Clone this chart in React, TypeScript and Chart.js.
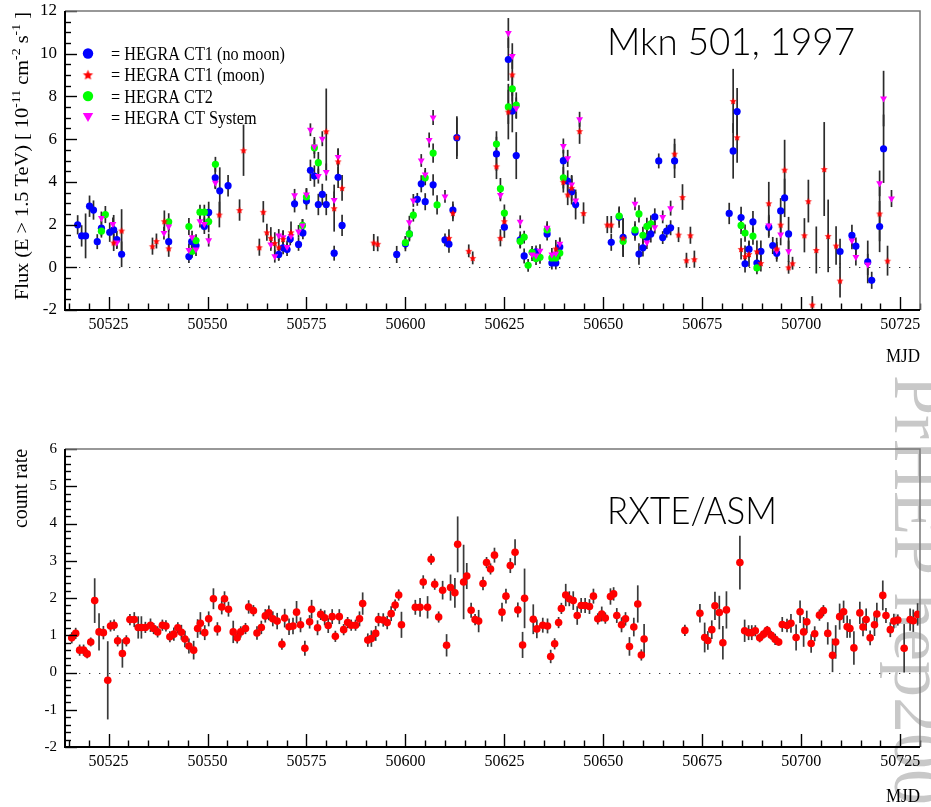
import React, { useEffect, useRef } from "react";
import { Chart, registerables } from "chart.js";

Chart.register(...registerables);

// ---------------- axes ----------------
const MJD_MIN = 50514;
const MJD_MAX = 50730;
const MJD_LABEL_STEP = 25;
const MJD_MINOR_STEP = 5;

const FLUX_MIN = -2;
const FLUX_MAX = 12;
const FLUX_LABEL_STEP = 2;
const FLUX_MINOR_STEP = 0.5;

const RATE_MIN = -2;
const RATE_MAX = 6;
const RATE_LABEL_STEP = 1;
const RATE_MINOR_STEP = 0.2;

// ---------------- texts ----------------
const TOP_TITLE = "Mkn 501, 1997";
const BOTTOM_TITLE = "RXTE/ASM";
const X_TITLE = "MJD";
const Y_TITLE_BOTTOM = "count rate";
const Y_TITLE_TOP = [
  { t: "Flux (E > 1.5 TeV) [ 10" },
  { t: "-11", sup: true },
  { t: " cm" },
  { t: "-2", sup: true },
  { t: " s" },
  { t: "-1", sup: true },
  { t: " ]" },
];
const WATERMARK = "PrHEP hep2001";
const LABEL_CT1_NOMOON = "HEGRA CT1 (no moon)";
const LABEL_CT1_MOON = "HEGRA CT1 (moon)";
const LABEL_CT2 = "HEGRA CT2";
const LABEL_SYSTEM = "HEGRA CT System";
const LABEL_ASM = "RXTE/ASM";

// ---------------- HEGRA CT1 (no moon) ----------------
const ct1MJD = [50517.2, 50518.2, 50519.2, 50520.2, 50521.2, 50522.15, 50523.2, 50525.3, 50526.3, 50527.1, 50528.3, 50540.2, 50545.3, 50546.0, 50547.1, 50549.2, 50550.3, 50551.95, 50553.1, 50555.2, 50568.0, 50569.1, 50570.1, 50570.9, 50572.0, 50573.0, 50574.1, 50575.0, 50576.0, 50577.0, 50578.0, 50579.0, 50580.0, 50582.0, 50583.0, 50584.0, 50597.8, 50600.0, 50601.0, 50603.0, 50604.0, 50605.0, 50607.0, 50610.0, 50611.0, 50612.0, 50613.0, 50623.0, 50625.0, 50626.0, 50627.0, 50628.0, 50629.0, 50630.0, 50633.0, 50635.8, 50637.0, 50638.0, 50639.0, 50639.9, 50641.0, 50642.0, 50643.0, 50652.0, 50654.0, 50655.0, 50658.0, 50659.0, 50660.0, 50661.0, 50662.0, 50663.0, 50664.0, 50665.0, 50666.0, 50667.0, 50668.0, 50681.8, 50682.8, 50683.8, 50684.8, 50685.8, 50686.8, 50687.8, 50688.8, 50689.8, 50691.8, 50692.8, 50693.8, 50694.8, 50695.8, 50696.8, 50709.8, 50712.8, 50713.8, 50716.8, 50717.8, 50719.8, 50720.8];
const ct1Flux = [1.99, 1.47, 1.47, 2.86, 2.68, 1.2, 1.83, 1.64, 1.75, 1.3, 0.61, 1.2, 0.5, 1.2, 1.02, 1.91, 2.57, 4.19, 3.58, 3.82, 0.6, 0.91, 0.83, 1.33, 2.97, 1.07, 1.61, 3.1, 4.54, 4.27, 2.94, 3.41, 2.94, 0.66, 4.21, 1.96, 0.6, 1.1, 1.56, 3.18, 3.91, 3.07, 3.86, 1.28, 1.08, 2.68, 6.07, 5.31, 1.88, 9.73, 7.32, 5.23, 1.28, 0.53, 0.72, 1.56, 0.2, 0.2, 0.95, 4.99, 4.04, 3.54, 2.94, 1.17, 2.35, 1.4, 1.64, 0.62, 0.91, 1.4, 1.56, 2.36, 4.98, 1.39, 1.69, 1.85, 4.98, 2.52, 5.45, 7.29, 2.33, 0.16, 0.85, 2.13, 0.2, 0.75, 1.88, 1.02, 0.66, 2.64, 3.25, 1.56, 0.74, 1.49, 0.99, 0.25, -0.61, 1.91, 5.55];
const ct1Err = [0.45, 0.5, 1.05, 0.5, 0.45, 0.35, 0.35, 0.45, 0.7, 0.4, 0.6, 0.4, 0.3, 0.3, 0.3, 0.35, 0.5, 0.5, 1.1, 0.5, 0.3, 0.3, 0.3, 0.3, 0.4, 0.3, 0.3, 0.4, 0.5, 0.5, 0.5, 0.5, 0.5, 0.35, 0.5, 0.5, 0.4, 0.35, 0.35, 0.3, 0.4, 0.4, 0.5, 0.3, 0.4, 0.4, 1.0, 0.8, 0.5, 1.0, 1.0, 1.1, 0.4, 0.35, 0.3, 0.3, 0.3, 0.3, 0.4, 0.5, 0.5, 0.6, 0.7, 0.4, 0.5, 0.9, 0.4, 0.5, 0.4, 0.4, 0.4, 0.4, 0.35, 0.3, 0.3, 0.35, 0.8, 0.5, 1.3, 1.1, 0.5, 0.4, 0.4, 0.5, 0.4, 0.5, 0.5, 0.4, 0.4, 0.6, 0.9, 0.8, 0.6, 0.5, 0.4, 1.0, 0.4, 1.2, 1.6];

// ---------------- HEGRA CT1 (moon) ----------------
const moonMJD = [50526.3, 50528.3, 50536.1, 50537.1, 50539.1, 50540.2, 50553.0, 50558.1, 50559.1, 50563.1, 50564.1, 50565.0, 50566.0, 50567.0, 50568.0, 50569.1, 50571.1, 50580.0, 50582.0, 50583.0, 50584.0, 50592.0, 50593.0, 50611.0, 50612.0, 50613.0, 50616.0, 50617.0, 50623.0, 50624.0, 50625.0, 50626.0, 50627.0, 50638.0, 50639.9, 50641.0, 50642.0, 50644.0, 50645.0, 50651.0, 50652.0, 50655.0, 50668.0, 50669.0, 50670.0, 50671.0, 50672.0, 50673.0, 50682.8, 50683.8, 50684.8, 50685.8, 50686.8, 50688.8, 50689.8, 50691.8, 50693.8, 50694.8, 50695.8, 50696.8, 50697.8, 50700.8, 50701.8, 50702.8, 50703.8, 50705.8, 50706.8, 50708.8, 50709.8, 50719.8, 50721.8];
const moonFlux = [1.16, 1.72, 0.99, 1.23, 2.16, 0.89, 2.47, 2.68, 5.48, 0.94, 2.6, 1.64, 1.38, 1.14, 0.94, 1.33, 1.64, 6.37, 2.77, 4.96, 3.72, 1.16, 1.1, 1.38, 2.55, 6.1, 0.77, 0.44, 4.73, 1.38, 2.16, 7.29, 9.03, 0.88, 4.0, 3.41, 3.72, 6.38, 2.54, 2.0, 2.0, 1.38, 5.32, 1.53, 3.29, 0.33, 1.5, 0.38, 7.79, 6.09, 0.86, 0.52, 0.62, 0.75, 0.2, 3.0, 0.88, 2.0, 4.57, 0.0, 0.19, 1.5, 3.1, -1.75, 0.81, 4.6, 1.47, 1.02, -0.62, 2.52, 0.31];
const moonErr = [0.4, 1.0, 0.4, 0.35, 0.5, 0.4, 0.6, 0.5, 1.2, 0.4, 0.5, 0.4, 0.5, 0.5, 0.6, 0.4, 0.5, 2.0, 1.1, 0.6, 0.6, 0.4, 0.35, 0.4, 0.4, 0.9, 0.3, 0.3, 0.6, 0.4, 0.4, 1.3, 1.0, 0.4, 0.5, 0.5, 0.6, 0.6, 0.5, 0.4, 0.4, 0.9, 0.7, 0.35, 0.6, 0.35, 0.4, 0.4, 1.5, 1.2, 0.5, 0.5, 0.6, 0.5, 0.4, 1.0, 0.5, 0.5, 1.4, 0.3, 0.3, 0.8, 1.0, 0.4, 1.1, 2.2, 1.7, 0.9, 0.8, 1.3, 0.7];

// ---------------- HEGRA CT2 ----------------
const ct2MJD = [50523.2, 50524.2, 50540.2, 50545.3, 50546.1, 50547.1, 50548.1, 50549.2, 50550.3, 50552.0, 50574.0, 50575.0, 50577.0, 50578.0, 50600.0, 50601.0, 50602.0, 50605.0, 50607.0, 50608.0, 50623.0, 50624.0, 50625.0, 50626.0, 50627.0, 50628.0, 50629.0, 50630.0, 50631.0, 50632.0, 50633.0, 50634.0, 50635.8, 50637.0, 50638.0, 50639.0, 50639.9, 50654.0, 50655.0, 50658.0, 50659.0, 50660.0, 50661.0, 50662.0, 50684.8, 50685.8, 50687.8, 50688.8];
const ct2Flux = [1.69, 2.47, 2.13, 1.91, 0.75, 1.25, 2.58, 2.58, 2.14, 4.82, 1.96, 3.29, 5.6, 4.9, 1.16, 1.56, 2.44, 4.19, 5.35, 2.92, 5.77, 3.68, 2.54, 7.51, 8.36, 7.59, 1.22, 1.41, 0.09, 0.7, 0.41, 0.47, 1.75, 0.44, 0.44, 0.67, 4.19, 2.4, 1.22, 1.75, 2.5, 1.5, 1.92, 2.03, 1.96, 1.6, 1.46, -0.03];
const ct2Err = [0.3, 0.4, 0.4, 0.4, 0.3, 0.3, 0.35, 0.35, 0.5, 0.35, 0.3, 0.4, 0.5, 0.5, 0.3, 0.3, 0.3, 0.35, 0.45, 0.45, 0.6, 0.5, 0.4, 0.8, 0.6, 0.6, 0.3, 0.3, 0.3, 0.3, 0.3, 0.3, 0.3, 0.3, 0.3, 0.3, 0.5, 0.4, 0.4, 0.4, 0.4, 0.4, 0.4, 0.4, 0.4, 0.4, 0.4, 0.3];

// ---------------- HEGRA CT System ----------------
const sysMJD = [50523.2, 50526.1, 50527.1, 50539.0, 50540.2, 50545.3, 50546.1, 50547.1, 50548.1, 50549.2, 50550.3, 50552.0, 50566.0, 50567.0, 50568.0, 50569.1, 50570.1, 50571.1, 50572.0, 50573.0, 50574.0, 50575.0, 50576.0, 50577.0, 50578.0, 50579.0, 50580.0, 50582.0, 50583.0, 50601.0, 50602.0, 50604.0, 50605.0, 50606.0, 50607.0, 50610.0, 50624.0, 50626.0, 50627.0, 50628.0, 50629.0, 50632.0, 50633.0, 50634.0, 50635.8, 50637.0, 50638.0, 50639.0, 50639.9, 50641.0, 50642.0, 50643.0, 50644.0, 50658.0, 50661.0, 50663.0, 50665.0, 50667.0, 50691.8, 50693.8, 50694.8, 50696.8, 50712.8, 50713.8, 50716.8, 50719.8, 50720.8, 50722.8];
const sysFlux = [2.31, 2.03, 1.16, 1.6, 1.91, 0.81, 1.41, 0.83, 2.16, 2.03, 1.27, 3.96, 1.07, 0.52, 1.49, 1.41, 0.95, 1.46, 3.37, 1.68, 1.96, 3.41, 6.44, 5.65, 4.27, 6.02, 4.46, 3.15, 5.16, 2.11, 3.13, 5.0, 4.35, 5.96, 7.01, 3.32, 3.39, 10.97, 9.89, 7.45, 2.13, 0.6, 0.55, 0.78, 1.85, 0.6, 0.64, 1.1, 5.68, 5.1, 3.88, 3.13, 6.93, 2.97, 1.16, 1.88, 2.36, 2.77, 1.96, 0.78, 1.53, 0.75, 1.25, 0.48, 0.13, 3.93, 7.9, 3.22];
const sysErr = [0.3, 0.3, 0.3, 0.3, 0.3, 0.3, 0.3, 0.3, 0.3, 0.3, 0.3, 0.3, 0.3, 0.3, 0.3, 0.3, 0.3, 0.3, 0.3, 0.3, 0.3, 0.3, 0.3, 0.35, 0.35, 0.35, 0.4, 0.4, 0.4, 0.3, 0.3, 0.3, 0.3, 0.35, 0.35, 0.3, 0.3, 0.7, 0.6, 0.5, 0.3, 0.3, 0.3, 0.3, 0.3, 0.3, 0.3, 0.3, 0.35, 0.4, 0.4, 0.4, 0.35, 0.3, 0.3, 0.3, 0.3, 0.35, 0.5, 0.4, 0.5, 0.5, 0.4, 0.4, 0.5, 0.6, 1.3, 0.4];

// ---------------- RXTE/ASM ----------------
const asmMJD = [
  50515.7, 50516.7, 50517.7, 50518.7, 50519.6, 50520.5, 50521.5, 50522.6, 50523.7, 50524.8,
  50525.5, 50526.4, 50527.3, 50528.5, 50529.5, 50530.4, 50531.5, 50532.5, 50533.3, 50534.3,
  50535.6, 50536.4, 50537.4, 50538.6, 50539.5, 50540.5, 50541.5, 50542.5, 50543.4, 50544.3,
  50545.3, 50546.5, 50547.5, 50548.2, 50549.3, 50550.3, 50551.5, 50552.5, 50553.6, 50554.3,
  50555.3, 50556.5, 50557.5, 50558.4, 50559.6, 50560.4, 50561.6, 50562.5, 50563.6, 50564.6,
  50565.5, 50566.5, 50567.6, 50568.8, 50569.5, 50570.6, 50571.6, 50572.5, 50573.5, 50574.6,
  50575.8, 50576.3, 50577.8, 50578.6, 50579.6, 50580.5, 50581.5, 50582.3, 50583.3, 50584.4,
  50585.4, 50586.3, 50587.4, 50588.4, 50589.2, 50590.5, 50591.4, 50592.5, 50593.2, 50594.4,
  50595.4, 50596.4, 50597.4, 50598.3, 50599.0, 50602.5, 50603.7, 50604.5, 50605.6, 50606.5,
  50607.4, 50608.4, 50609.4, 50610.4, 50611.4, 50612.5, 50613.2, 50614.7, 50615.5, 50616.6,
  50617.6, 50618.5, 50619.6, 50620.5, 50621.5, 50622.5, 50624.4, 50625.4, 50626.5, 50627.7,
  50628.4, 50629.6, 50630.1, 50632.3, 50633.2, 50634.7, 50635.9, 50636.7, 50637.7, 50638.7,
  50639.4, 50640.5, 50641.4, 50642.4, 50643.4, 50644.4, 50645.4, 50646.5, 50647.5, 50648.6,
  50649.6, 50650.5, 50651.8, 50652.6, 50653.4, 50654.6, 50655.6, 50656.6, 50657.7, 50658.7,
  50659.6, 50660.3, 50670.6, 50674.4, 50675.6, 50676.4, 50677.4, 50678.2, 50679.3, 50680.2,
  50681.1, 50684.5, 50685.7, 50686.7, 50687.5, 50688.4, 50689.5, 50690.5, 50691.4, 50692.4,
  50693.4, 50694.3, 50695.2, 50696.4, 50697.4, 50698.7, 50699.7, 50700.6, 50701.4, 50702.5,
  50703.4, 50704.6, 50705.6, 50706.7, 50707.9, 50708.7, 50709.7, 50710.7, 50711.6, 50712.3,
  50713.3, 50714.8, 50715.6, 50716.4, 50717.4, 50718.5, 50719.1, 50720.6, 50721.4, 50722.5,
  50723.4, 50724.4, 50726.0, 50727.5, 50728.3, 50729.4,
];
const asmRate = [
  0.93, 1.05, 0.6, 0.6, 0.5, 0.82, 1.93, 1.09, 1.07, -0.21,
  1.25, 1.27, 0.85, 0.51, 0.85, 1.42, 1.42, 1.21, 1.21, 1.21,
  1.27, 1.18, 1.09, 1.27, 1.25, 0.96, 1.03, 1.2, 1.08, 0.9,
  0.71, 0.6, 1.18, 1.32, 1.07, 1.44, 1.98, 1.17, 1.76, 1.98,
  1.7, 1.09, 0.93, 1.09, 1.18, 1.76, 1.66, 1.06, 1.21, 1.52,
  1.6, 1.44, 1.38, 0.76, 1.46, 1.23, 1.25, 1.62, 1.28, 0.65,
  1.36, 1.7, 1.2, 1.56, 1.47, 1.26, 1.5, 0.97, 1.5, 1.15,
  1.34, 1.27, 1.27, 1.44, 1.85, 0.87, 0.91, 1.05, 1.42, 1.41,
  1.34, 1.58, 1.81, 2.08, 1.28, 1.75, 1.75, 2.43, 1.75, 3.04,
  2.37, 1.49, 2.21, 0.73, 2.28, 2.14, 3.44, 2.43, 2.59, 1.67,
  1.42, 1.38, 2.39, 2.95, 2.78, 3.15, 1.62, 2.05, 2.87, 3.23,
  1.68, 0.74, 1.99, 1.43, 1.17, 1.27, 1.25, 0.43, 0.77, 1.34,
  1.72, 2.08, 1.98, 1.93, 1.53, 1.8, 1.8, 1.77, 2.05, 1.44,
  1.57, 1.46, 2.04, 2.11, 1.53, 1.28, 1.44, 0.7, 1.22, 1.84,
  0.47, 0.9, 1.13, 1.59, 0.94, 0.86, 1.15, 1.79, 1.61, 0.8,
  1.68, 2.95, 1.12, 1.07, 1.07, 1.12, 0.93, 1.03, 1.13, 1.0,
  0.89, 0.82, 1.29, 1.26, 1.32, 0.94, 1.63, 1.09, 1.36, 0.78,
  1.04, 1.54, 1.66, 1.05, 0.46, 0.82, 1.5, 1.63, 1.23, 1.18,
  0.66, 1.6, 1.22, 1.42, 0.93, 1.28, 1.57, 2.07, 1.53, 1.15,
  1.38, 1.41, 0.65, 1.42, 1.39, 1.56,
];
const asmErr = [
  0.15, 0.15, 0.15, 0.15, 0.12, 0.12, 0.6, 0.5, 0.18, 1.05,
  0.15, 0.15, 0.15, 0.38, 0.15, 0.15, 0.2, 0.3, 0.3, 0.15,
  0.18, 0.15, 0.15, 0.15, 0.15, 0.15, 0.18, 0.15, 0.2, 0.22,
  0.2, 0.25, 0.25, 0.3, 0.2, 0.2, 0.28, 0.18, 0.2, 0.2,
  0.2, 0.3, 0.15, 0.15, 0.15, 0.18, 0.15, 0.18, 0.18, 0.18,
  0.2, 0.2, 0.22, 0.15, 0.25, 0.22, 0.22, 0.3, 0.2, 0.2,
  0.18, 0.25, 0.2, 0.15, 0.2, 0.2, 0.2, 0.15, 0.2, 0.15,
  0.15, 0.15, 0.15, 0.2, 0.3, 0.18, 0.22, 0.2, 0.18, 0.18,
  0.18, 0.2, 0.15, 0.15, 0.35, 0.2, 0.25, 0.18, 0.3, 0.15,
  0.15, 0.15, 0.25, 0.3, 0.35, 0.4, 0.75, 1.0, 0.35, 0.2,
  0.15, 0.3, 0.18, 0.15, 0.15, 0.2, 0.25, 0.2, 0.2, 0.35,
  0.2, 0.35, 0.8, 0.4, 0.25, 0.2, 0.2, 0.18, 0.15, 0.15,
  0.15, 0.3, 0.2, 0.25, 0.25, 0.2, 0.2, 0.2, 0.2, 0.15,
  0.2, 0.15, 0.22, 0.18, 0.2, 0.2, 0.18, 0.25, 0.25, 0.5,
  0.15, 0.4, 0.15, 0.25, 0.4, 0.25, 0.25, 0.38, 0.45, 0.45,
  0.5, 0.72, 0.3, 0.2, 0.2, 0.15, 0.12, 0.12, 0.12, 0.12,
  0.15, 0.1, 0.2, 0.18, 0.25, 0.35, 0.3, 0.4, 0.3, 0.25,
  0.2, 0.15, 0.15, 0.3, 0.45, 0.45, 0.35, 0.3, 0.3, 0.25,
  0.45, 0.3, 0.25, 0.3, 0.2, 0.3, 0.3, 0.4, 0.2, 0.2,
  0.2, 0.15, 0.65, 0.3, 0.3, 0.3,
];

// ---------------- styling ----------------
const SERIF = "'Liberation Serif', 'Times New Roman', Times, serif";
const SANS_LIGHT = "300 37px Lato, 'Liberation Sans', Arial, sans-serif";
const BLUE = "#0000ff";
const RED = "#ff0000";
const GREEN = "#00ff00";
const MAGENTA = "#ff00ff";

const W = 931;
const TOP_H = 370;
const BOT_H = 437;

function toPoints(xs: number[], ys: number[]) {
  return xs.map((x, i) => ({ x, y: ys[i] }));
}

function makeStar(color: string, R: number) {
  const c = document.createElement("canvas");
  const s = Math.ceil(R * 2 + 2);
  c.width = s;
  c.height = s;
  const g = c.getContext("2d") as CanvasRenderingContext2D;
  g.fillStyle = color;
  g.beginPath();
  for (let k = 0; k < 10; k++) {
    const r = k % 2 === 0 ? R : R * 0.45;
    const a = -Math.PI / 2 + (k * Math.PI) / 5;
    const px = s / 2 + r * Math.cos(a);
    const py = s / 2 + 0.5 + r * Math.sin(a);
    if (k === 0) g.moveTo(px, py);
    else g.lineTo(px, py);
  }
  g.closePath();
  g.fill();
  return c;
}

function fitText(ctx: any, text: string, x: number, y: number, font: string, width: number, alignRight = false, color = "#000") {
  ctx.save();
  ctx.font = font;
  ctx.fillStyle = color;
  ctx.textAlign = "left";
  ctx.textBaseline = "alphabetic";
  const w = ctx.measureText(text).width;
  const s = width / w;
  ctx.translate(alignRight ? x - width : x, y);
  ctx.scale(s, 1);
  ctx.fillText(text, 0, 0);
  ctx.restore();
}

function drawRich(ctx: any, segs: any[], size: number, family: string, length: number) {
  const supSize = Math.round(size * 0.68);
  const widths = segs.map((sg) => {
    ctx.font = `${sg.sup ? supSize : size}px ${family}`;
    return ctx.measureText(sg.t).width;
  });
  const total = widths.reduce((a, b) => a + b, 0);
  ctx.scale(length / total, 1);
  ctx.fillStyle = "#000";
  ctx.textAlign = "left";
  ctx.textBaseline = "alphabetic";
  let x = 0;
  segs.forEach((sg, i) => {
    ctx.font = `${sg.sup ? supSize : size}px ${family}`;
    ctx.fillText(sg.t, x, sg.sup ? -size * 0.42 : 0);
    x += widths[i];
  });
}

function errorBarPlugin(color: string, width: number) {
  return {
    id: "errorBars",
    beforeDatasetsDraw(chart: any) {
      const { ctx, chartArea: a, scales } = chart;
      const y = scales.y;
      ctx.save();
      ctx.beginPath();
      ctx.rect(a.left, a.top, a.right - a.left, a.bottom - a.top);
      ctx.clip();
      // dotted zero line
      const y0 = Math.round(y.getPixelForValue(0)) + 0.5;
      ctx.strokeStyle = "#333";
      ctx.lineWidth = 1.2;
      ctx.setLineDash([1.3, 8.7]);
      ctx.beginPath();
      ctx.moveTo(a.left + 4, y0);
      ctx.lineTo(a.right, y0);
      ctx.stroke();
      ctx.setLineDash([]);
      ctx.strokeStyle = color;
      ctx.lineWidth = width;
      chart.data.datasets.forEach((ds: any, i: number) => {
        const errs = ds.errors;
        if (!errs) return;
        const meta = chart.getDatasetMeta(i);
        meta.data.forEach((el: any, j: number) => {
          const p = ds.data[j];
          const e = errs[j] || 0;
          const y1 = y.getPixelForValue(p.y - e);
          const y2 = y.getPixelForValue(p.y + e);
          ctx.beginPath();
          ctx.moveTo(el.x, y1);
          ctx.lineTo(el.x, y2);
          ctx.stroke();
        });
      });
      ctx.restore();
    },
  };
}

function axesPlugin(yMin: number, yMax: number, yMinor: number, yMajor: number) {
  return {
    id: "rootAxes",
    afterDatasetsDraw(chart: any) {
      const { ctx, chartArea: a, scales } = chart;
      const x = scales.x;
      const y = scales.y;
      ctx.save();
      ctx.strokeStyle = "#000";
      ctx.lineWidth = 1.4;
      const start = Math.ceil(MJD_MIN / MJD_MINOR_STEP) * MJD_MINOR_STEP;
      for (let v = start; v <= MJD_MAX; v += MJD_MINOR_STEP) {
        const px = Math.round(x.getPixelForValue(v)) + 0.5;
        const len = v % MJD_LABEL_STEP === 0 ? 13 : 6.5;
        ctx.beginPath();
        ctx.moveTo(px, a.bottom);
        ctx.lineTo(px, a.bottom - len);
        ctx.stroke();
      }
      const n = Math.round((yMax - yMin) / yMinor);
      for (let k = 0; k <= n; k++) {
        const v = yMin + k * yMinor;
        const r = v / yMajor;
        const major = Math.abs(r - Math.round(r)) < 1e-6;
        const py = Math.round(y.getPixelForValue(v)) + 0.5;
        ctx.beginPath();
        ctx.moveTo(a.left, py);
        ctx.lineTo(a.left + (major ? 12 : 6), py);
        ctx.stroke();
      }
      // frame
      ctx.strokeStyle = "#777";
      ctx.lineWidth = 1.5;
      ctx.beginPath();
      ctx.moveTo(a.left, a.top);
      ctx.lineTo(a.right, a.top);
      ctx.lineTo(a.right, a.bottom);
      ctx.stroke();
      ctx.strokeStyle = "#000";
      ctx.lineWidth = 2;
      ctx.beginPath();
      ctx.moveTo(a.left, a.top);
      ctx.lineTo(a.left, a.bottom);
      ctx.lineTo(a.right, a.bottom);
      ctx.stroke();
      ctx.restore();
    },
  };
}

function baseOptions(yMin: number, yMax: number, yStep: number, padTop: number, yFont: number) {
  return {
    responsive: false,
    animation: false,
    events: [],
    layout: { padding: { top: padTop, right: 11, left: 0, bottom: 0 } },
    plugins: {
      legend: { display: false },
      tooltip: { enabled: false },
      title: { display: false },
    },
    scales: {
      x: {
        type: "linear",
        min: MJD_MIN,
        max: MJD_MAX,
        grid: { display: false, drawTicks: false },
        border: { display: false },
        ticks: {
          stepSize: MJD_LABEL_STEP,
          includeBounds: false,
          autoSkip: false,
          maxRotation: 0,
          padding: 5,
          color: "#000",
          font: { family: SERIF, size: 16 },
          callback: (v: any) => String(v),
        },
        afterFit: (s: any) => {
          s.height = 60;
          s.paddingLeft = 0;
          s.paddingRight = 0;
        },
      },
      y: {
        type: "linear",
        min: yMin,
        max: yMax,
        grid: { display: false, drawTicks: false },
        border: { display: false },
        ticks: {
          stepSize: yStep,
          includeBounds: false,
          padding: 8,
          color: "#000",
          font: { family: SERIF, size: yFont },
          callback: (v: any) => String(v),
        },
        afterFit: (s: any) => {
          s.width = 65;
          s.paddingTop = 0;
          s.paddingBottom = 0;
        },
      },
    },
  };
}

export default function App() {
  const topRef = useRef<HTMLCanvasElement>(null);
  const botRef = useRef<HTMLCanvasElement>(null);

  useEffect(() => {
    const star = makeStar(RED, 3.7);
    const legendStar = makeStar(RED, 5.4);

    const legendEntries = [
      { label: LABEL_CT1_NOMOON, kind: "circle", color: BLUE },
      { label: LABEL_CT1_MOON, kind: "star", color: RED },
      { label: LABEL_CT2, kind: "circle", color: GREEN },
      { label: LABEL_SYSTEM, kind: "tri", color: MAGENTA },
    ];

    const topAnnot = {
      id: "topAnnot",
      afterDraw(chart: any) {
        const ctx = chart.ctx;
        fitText(ctx, TOP_TITLE, 607, 55, SANS_LIGHT, 248);
        fitText(ctx, X_TITLE, 920, 362, `19px ${SERIF}`, 34, true);
        ctx.save();
        ctx.translate(28, 300);
        ctx.rotate(-Math.PI / 2);
        drawRich(ctx, Y_TITLE_TOP, 19, SERIF, 288);
        ctx.restore();
        // legend
        ctx.save();
        ctx.font = `19px ${SERIF}`;
        const first = "= " + legendEntries[0].label;
        const sx = 174 / ctx.measureText(first).width;
        legendEntries.forEach((en, i) => {
          const yc = 53.5 + i * 21.3;
          const xc = 88;
          ctx.fillStyle = en.color;
          if (en.kind === "circle") {
            ctx.beginPath();
            ctx.arc(xc, yc, 5.2, 0, Math.PI * 2);
            ctx.fill();
          } else if (en.kind === "star") {
            ctx.drawImage(legendStar, xc - legendStar.width / 2, yc - legendStar.height / 2);
          } else {
            ctx.beginPath();
            ctx.moveTo(xc - 5.2, yc - 4.5);
            ctx.lineTo(xc + 5.2, yc - 4.5);
            ctx.lineTo(xc, yc + 4.7);
            ctx.closePath();
            ctx.fill();
          }
          ctx.save();
          ctx.fillStyle = "#000";
          ctx.textBaseline = "alphabetic";
          ctx.translate(111, yc + 6.5);
          ctx.scale(sx, 1);
          ctx.fillText("= " + en.label, 0, 0);
          ctx.restore();
        });
        ctx.restore();
      },
    };

    const botAnnot = {
      id: "botAnnot",
      beforeDraw(chart: any) {
        const ctx = chart.ctx;
        ctx.save();
        ctx.translate(895, 5);
        ctx.rotate(Math.PI / 2);
        ctx.font = `72px ${SERIF}`;
        ctx.fillStyle = "#c8c8c8";
        ctx.textBaseline = "alphabetic";
        ctx.fillText(WATERMARK, 0, 0);
        ctx.restore();
      },
      afterDraw(chart: any) {
        const ctx = chart.ctx;
        fitText(ctx, BOTTOM_TITLE, 607, 154, SANS_LIGHT, 170);
        fitText(ctx, X_TITLE, 920, 432, `19px ${SERIF}`, 34, true);
        ctx.save();
        ctx.translate(27, 158);
        ctx.rotate(-Math.PI / 2);
        drawRich(ctx, [{ t: Y_TITLE_BOTTOM }], 20, SERIF, 79);
        ctx.restore();
      },
    };

    const topChart = new Chart(topRef.current as HTMLCanvasElement, {
      type: "scatter",
      data: {
        datasets: [
          {
            label: LABEL_CT1_NOMOON,
            data: toPoints(ct1MJD, ct1Flux),
            errors: ct1Err,
            pointStyle: "circle",
            pointRadius: 3.6,
            pointBorderWidth: 0,
            backgroundColor: BLUE,
            borderColor: BLUE,
            order: 4,
          },
          {
            label: LABEL_CT1_MOON,
            data: toPoints(moonMJD, moonFlux),
            errors: moonErr,
            pointStyle: star,
            pointRadius: 3.7,
            pointBorderWidth: 0,
            backgroundColor: RED,
            borderColor: RED,
            order: 1,
          },
          {
            label: LABEL_CT2,
            data: toPoints(ct2MJD, ct2Flux),
            errors: ct2Err,
            pointStyle: "circle",
            pointRadius: 3.6,
            pointBorderWidth: 0,
            backgroundColor: GREEN,
            borderColor: GREEN,
            order: 3,
          },
          {
            label: LABEL_SYSTEM,
            data: toPoints(sysMJD, sysFlux),
            errors: sysErr,
            pointStyle: "triangle",
            rotation: 180,
            pointRotation: 180,
            pointRadius: 4,
            pointBorderWidth: 0,
            backgroundColor: MAGENTA,
            borderColor: MAGENTA,
            order: 2,
          },
        ],
      } as any,
      options: baseOptions(FLUX_MIN, FLUX_MAX, FLUX_LABEL_STEP, 11, 17) as any,
      plugins: [
        errorBarPlugin("#2b2b2b", 1.7),
        axesPlugin(FLUX_MIN, FLUX_MAX, FLUX_MINOR_STEP, FLUX_LABEL_STEP),
        topAnnot,
      ],
    });

    const botChart = new Chart(botRef.current as HTMLCanvasElement, {
      type: "scatter",
      data: {
        datasets: [
          {
            label: LABEL_ASM,
            data: toPoints(asmMJD, asmRate),
            errors: asmErr,
            pointStyle: "circle",
            pointRadius: 3.8,
            pointBorderWidth: 0,
            backgroundColor: RED,
            borderColor: RED,
          },
        ],
      } as any,
      options: baseOptions(RATE_MIN, RATE_MAX, RATE_LABEL_STEP, 79, 15) as any,
      plugins: [
        errorBarPlugin("#3a3a3a", 1.7),
        axesPlugin(RATE_MIN, RATE_MAX, RATE_MINOR_STEP, RATE_LABEL_STEP),
        botAnnot,
      ],
    });

    return () => {
      topChart.destroy();
      botChart.destroy();
    };
  }, []);

  return (
    <div style={{ position: "absolute", left: 0, top: 0, width: W, height: TOP_H + BOT_H, background: "#fff", overflow: "hidden" }}>
      <div style={{ position: "absolute", left: 0, top: 0, width: W, height: TOP_H }}>
        <canvas ref={topRef} width={W} height={TOP_H} style={{ display: "block", width: W, height: TOP_H }} />
      </div>
      <div style={{ position: "absolute", left: 0, top: TOP_H, width: W, height: BOT_H }}>
        <canvas ref={botRef} width={W} height={BOT_H} style={{ display: "block", width: W, height: BOT_H }} />
      </div>
    </div>
  );
}
